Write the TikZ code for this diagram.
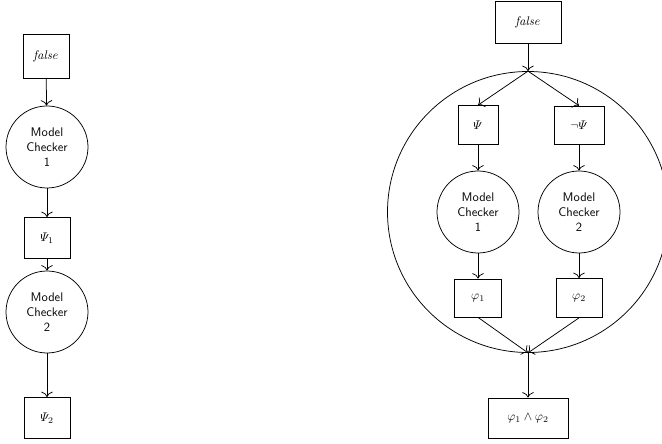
\documentclass[tikz,border=0pt]{standalone}
\usepackage{amsmath}
\usetikzlibrary{arrows.meta}
\begin{document}
\begin{tikzpicture}[x=0.8pt,y=-0.8pt,line width=0.6pt,
  box/.style={draw,rectangle,inner sep=0pt},
  mc/.style={draw,circle,inner sep=0pt,align=center,font=\sffamily,minimum size=65.6pt},
  arr/.style={-{To[scale=1.5]}}]
\useasboundingbox (0,0) rectangle (662,444);
\clip (0,0) rectangle (662,444);
% left chain
\node[box,minimum width=36.8pt,minimum height=35.2pt] (lf) at (46,56) {$\mathit{false}$};
\node[mc] (lmc1) at (47,147) {Model\\Checker\\1};
\node[box,minimum width=36.8pt,minimum height=32.8pt] (lpsi1) at (47,238) {$\varPsi_1$};
\node[mc] (lmc2) at (47,312) {Model\\Checker\\2};
\node[box,minimum width=36.8pt,minimum height=32.8pt] (lpsi2) at (47,418) {$\varPsi_2$};
\draw[arr] (lf) -- (lmc1);
\draw[arr] (lmc1) -- (lpsi1);
\draw[arr] (lpsi1) -- (lmc2);
\draw[arr] (lmc2) -- (lpsi2);
% right part
\node[box,minimum width=52.8pt,minimum height=33.6pt] (rf) at (528,22) {$\mathit{false}$};
\node[draw,circle,inner sep=0pt,minimum size=224.8pt] (big) at (528,212) {};
\node[box,minimum width=32pt,minimum height=31.2pt] (rpsi) at (478,125) {$\varPsi$};
\node[box,minimum width=40pt,minimum height=30.4pt] (rnpsi) at (579,125) {$\neg\varPsi$};
\node[mc] (rmc1) at (478,212) {Model\\Checker\\1};
\node[mc] (rmc2) at (579,212) {Model\\Checker\\2};
\node[box,minimum width=37.6pt,minimum height=30.4pt] (rphi1) at (478,298) {$\varphi_1$};
\node[box,minimum width=36.8pt,minimum height=31.2pt] (rphi2) at (579,298) {$\varphi_2$};
\node[box,minimum width=64pt,minimum height=32pt] (conj) at (528,418) {$\varphi_1\wedge\varphi_2$};
\draw[arr] (rf.south) -- (big.north);
\draw[arr] (big.north) -- (rpsi.north);
\draw[arr] (big.north) -- (rnpsi.north);
\draw[arr] (rpsi) -- (rmc1);
\draw[arr] (rnpsi) -- (rmc2);
\draw[arr] (rmc1) -- (rphi1);
\draw[arr] (rmc2) -- (rphi2);
\draw[arr] (rphi1.south) -- (big.south);
\draw[arr] (rphi2.south) -- (big.south);
\draw[arr] (big.south) -- (conj.north);
\end{tikzpicture}
\end{document}
